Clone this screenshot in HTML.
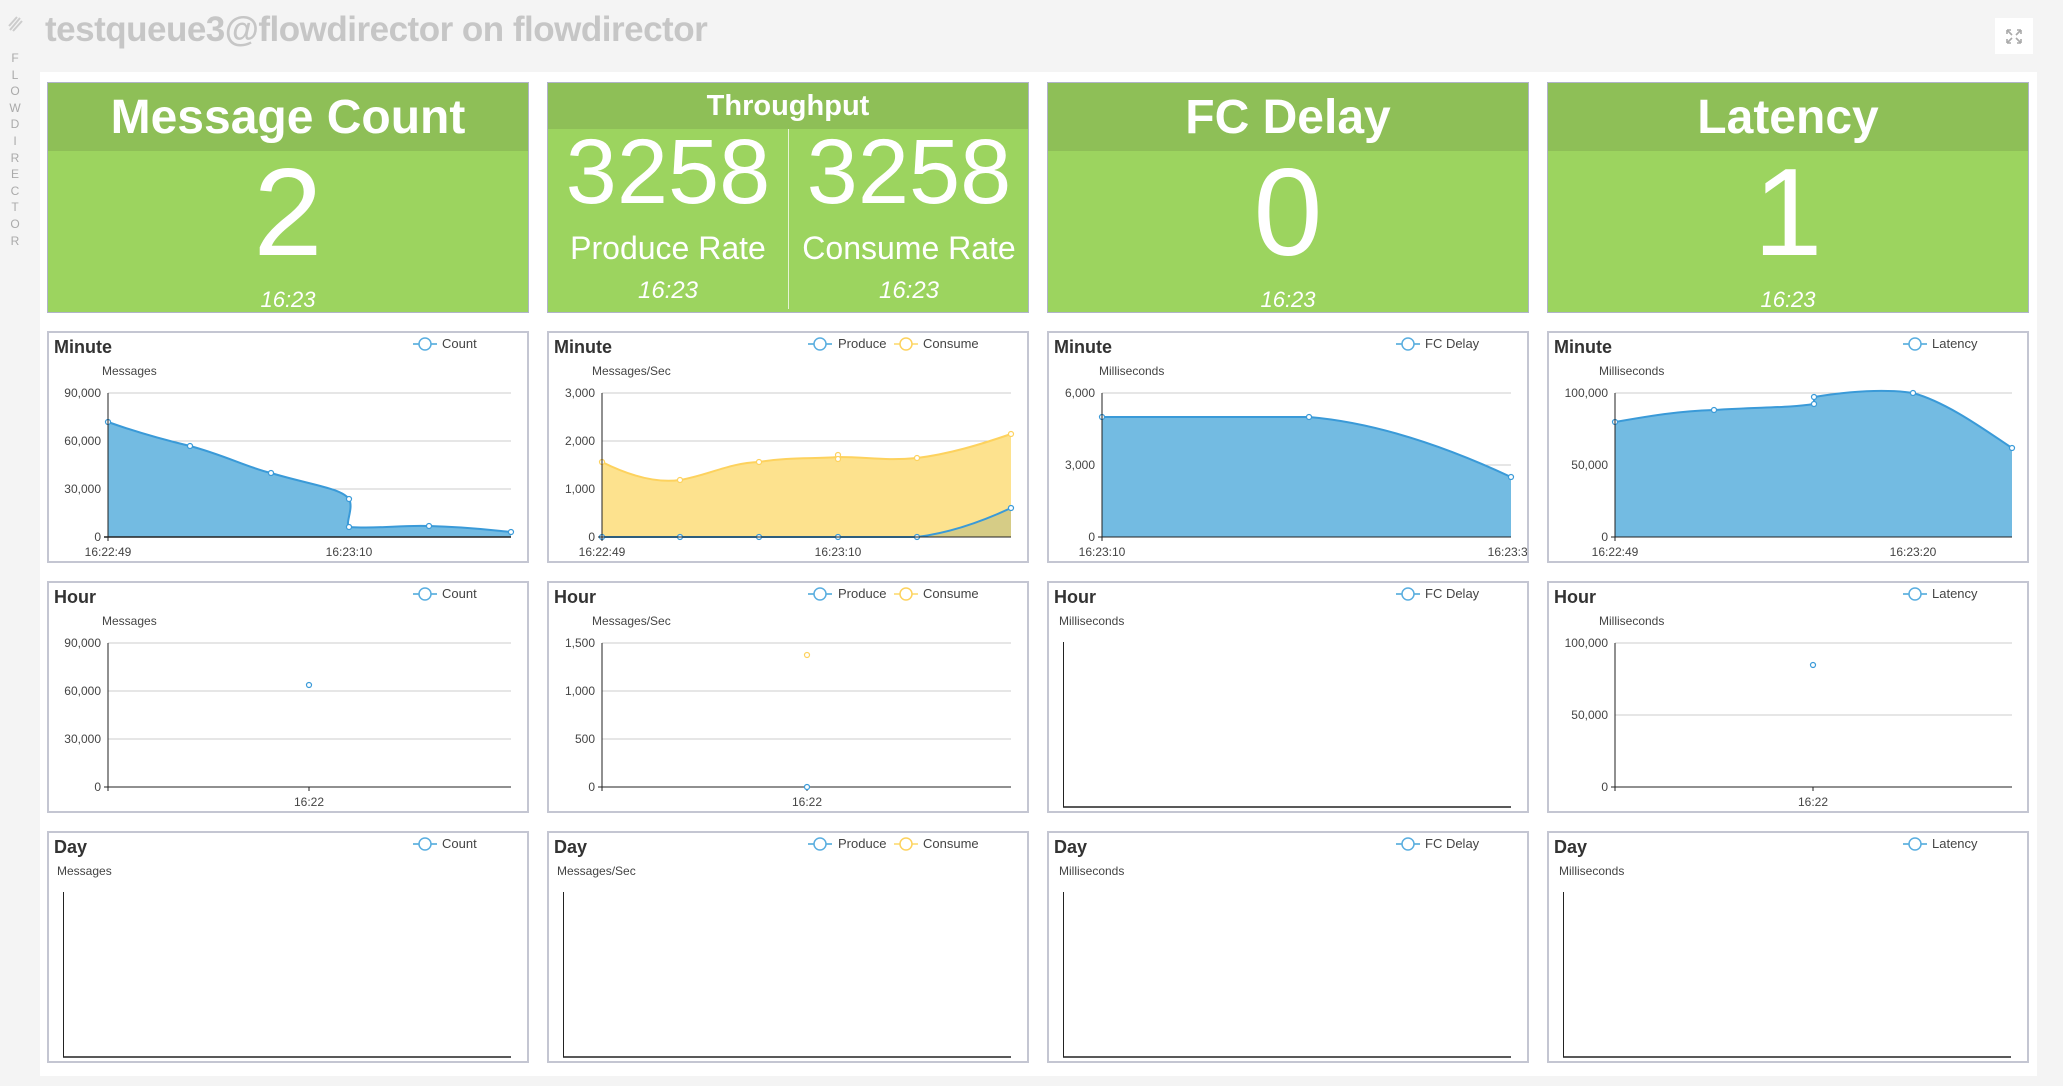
<!DOCTYPE html>
<html><head><meta charset="utf-8">
<style>
*{margin:0;padding:0;box-sizing:border-box}
body{width:2063px;height:1086px;background:#f4f4f4;position:relative;overflow:hidden;font-family:"Liberation Sans",sans-serif}
.title{position:absolute;left:45px;top:10px;font-size:35px;font-weight:bold;color:#c6c6c6;letter-spacing:-0.5px}
.side{position:absolute;left:9px;top:50px;width:12px;font-size:12px;color:#aaa;text-align:center;line-height:16.6px}
.content{position:absolute;left:40px;top:72px;width:1997px;height:1004px;background:#fff}
.tile{position:absolute;top:82px;width:482px;height:231px;background:#9cd45f;border:1px solid #b0b4c8;color:#fff;text-align:center}
.hdr{position:absolute;left:0;top:0;width:100%;height:68px;background:#8ebf57;font-weight:bold;font-size:48px;line-height:70px}
.big{position:absolute;left:0;width:100%;font-size:124px;line-height:1}
.tm{position:absolute;left:0;width:100%;font-size:22px;font-style:italic}
.panel{position:absolute;width:482px;height:232px;background:#fff;border:2px solid #c4c6d2}
svg text{font-family:"Liberation Sans",sans-serif}
</style></head><body>
<div class="title">testqueue3@flowdirector on flowdirector</div>
<svg style="position:absolute;left:6px;top:14px" width="20" height="20"><path d="M4 16 L14 4 M7 17 L16 7 M3 12 L11 3" stroke="#ccc" stroke-width="2" fill="none"/></svg>
<div class="side">F<br>L<br>O<br>W<br>D<br>I<br>R<br>E<br>C<br>T<br>O<br>R</div>
<div style="position:absolute;left:1995px;top:18px;width:38px;height:36px;background:#fff"><svg width="38" height="36"><g stroke="#aaa" stroke-width="1.6" fill="none"><path d="M12 12 L17 17 M12 12 h4 M12 12 v4"/><path d="M26 12 L21 17 M26 12 h-4 M26 12 v4"/><path d="M12 25 L17 20 M12 25 h4 M12 25 v-4"/><path d="M26 25 L21 20 M26 25 h-4 M26 25 v-4"/></g></svg></div>
<div class="content"></div>

<div class="tile" style="left:47px"><div class="hdr">Message Count</div><div class="big" style="top:68px">2</div><div class="tm" style="top:204px">16:23</div></div>
<div class="tile" style="left:547px">
 <div class="hdr" style="height:46px;font-size:29px;line-height:46px">Throughput</div>
 <div style="position:absolute;left:240px;top:46px;width:1px;height:180px;background:#e6f3d6"></div>
 <div style="position:absolute;left:0;width:240px;top:89px;font-size:92px;line-height:0;">3258</div>
 <div style="position:absolute;left:241px;width:240px;top:89px;font-size:92px;line-height:0;">3258</div>
 <div style="position:absolute;left:0;width:240px;top:147px;font-size:32px;">Produce Rate</div>
 <div style="position:absolute;left:241px;width:240px;top:147px;font-size:32px;">Consume Rate</div>
 <div style="position:absolute;left:0;width:240px;top:194px;font-size:24px;font-style:italic">16:23</div>
 <div style="position:absolute;left:241px;width:240px;top:194px;font-size:24px;font-style:italic">16:23</div>
</div>
<div class="tile" style="left:1047px"><div class="hdr">FC Delay</div><div class="big" style="top:68px">0</div><div class="tm" style="top:204px">16:23</div></div>
<div class="tile" style="left:1547px"><div class="hdr">Latency</div><div class="big" style="top:68px">1</div><div class="tm" style="top:204px">16:23</div></div>

<!-- Row Minute -->
<div class="panel" style="left:47px;top:331px"><svg width="478" height="228">
<text x="5" y="20" font-size="18" font-weight="bold" fill="#333">Minute</text>
<g><line x1="364" y1="11" x2="388" y2="11" stroke="#73bbe2" stroke-width="2"/><circle cx="376" cy="11" r="6" fill="#fff" stroke="#5aaee0" stroke-width="1.5"/><text x="393" y="15" font-size="13" fill="#444">Count</text></g>
<text x="53" y="42" font-size="12" fill="#444">Messages</text>
<g stroke="#ccc"><line x1="59" y1="60" x2="462" y2="60"/><line x1="59" y1="108" x2="462" y2="108"/><line x1="59" y1="156" x2="462" y2="156"/></g>
<g font-size="12" fill="#444" text-anchor="end"><text x="52" y="64">90,000</text><text x="52" y="112">60,000</text><text x="52" y="160">30,000</text><text x="52" y="208">0</text></g>
<path d="M59,89 C90,100 120,108 141,113 C175,122 200,135 222,140 C262,152 292,155 300,166 C305,175 296,190 300,194 C330,196 350,192 380,193 C420,194 440,197 462,199 L462,204 L59,204Z" fill="#73bbe2"/>
<path d="M59,89 C90,100 120,108 141,113 C175,122 200,135 222,140 C262,152 292,155 300,166 C305,175 296,190 300,194 C330,196 350,192 380,193 C420,194 440,197 462,199" fill="none" stroke="#3a9ad8" stroke-width="2"/>
<g fill="#fff" stroke="#3a9ad8" stroke-width="1.2"><circle cx="59" cy="89" r="2.5"/><circle cx="141" cy="113" r="2.5"/><circle cx="222" cy="140" r="2.5"/><circle cx="300" cy="166" r="2.5"/><circle cx="300" cy="194" r="2.5"/><circle cx="380" cy="193" r="2.5"/><circle cx="462" cy="199" r="2.5"/></g>
<line x1="59" y1="60" x2="59" y2="208" stroke="#222"/><line x1="55" y1="204" x2="462" y2="204" stroke="#222" stroke-width="1.5"/>
<g font-size="12" fill="#444" text-anchor="middle"><text x="59" y="223">16:22:49</text><text x="300" y="223">16:23:10</text></g>
</svg></div>

<div class="panel" style="left:547px;top:331px"><svg width="478" height="228">
<text x="5" y="20" font-size="18" font-weight="bold" fill="#333">Minute</text>
<g><line x1="259" y1="11" x2="283" y2="11" stroke="#73bbe2" stroke-width="2"/><circle cx="271" cy="11" r="6" fill="#fff" stroke="#5aaee0" stroke-width="1.5"/><text x="289" y="15" font-size="13" fill="#444">Produce</text>
<line x1="345" y1="11" x2="369" y2="11" stroke="#fde28e" stroke-width="2"/><circle cx="357" cy="11" r="6" fill="#fff" stroke="#fdd25e" stroke-width="1.5"/><text x="374" y="15" font-size="13" fill="#444">Consume</text></g>
<text x="43" y="42" font-size="12" fill="#444">Messages/Sec</text>
<g stroke="#ccc"><line x1="53" y1="60" x2="462" y2="60"/><line x1="53" y1="108" x2="462" y2="108"/><line x1="53" y1="156" x2="462" y2="156"/></g>
<g font-size="12" fill="#444" text-anchor="end"><text x="46" y="64">3,000</text><text x="46" y="112">2,000</text><text x="46" y="160">1,000</text><text x="46" y="208">0</text></g>
<path d="M53,129 C85,145 110,150 131,147 C160,142 180,130 210,129 C240,124 265,126 289,124 C320,124 335,128 368,125 C400,121 430,112 462,101 L462,204 L53,204Z" fill="#fde28e"/>
<path d="M53,129 C85,145 110,150 131,147 C160,142 180,130 210,129 C240,124 265,126 289,124 C320,124 335,128 368,125 C400,121 430,112 462,101" fill="none" stroke="#fdd25e" stroke-width="2"/>
<path d="M368,204 C400,200 430,190 462,175 L462,204Z" fill="#d6cc86"/>
<path d="M53,204 L368,204 C400,200 430,190 462,175" fill="none" stroke="#3a9ad8" stroke-width="2"/>
<g fill="#fff" stroke="#fdd25e" stroke-width="1.2"><circle cx="53" cy="129" r="2.5"/><circle cx="131" cy="147" r="2.5"/><circle cx="210" cy="129" r="2.5"/><circle cx="289" cy="122" r="2.5"/><circle cx="289" cy="126" r="2.5"/><circle cx="368" cy="125" r="2.5"/><circle cx="462" cy="101" r="2.5"/></g>
<g fill="#fff" stroke="#3a9ad8" stroke-width="1.2"><circle cx="53" cy="204" r="2.5"/><circle cx="131" cy="204" r="2.5"/><circle cx="210" cy="204" r="2.5"/><circle cx="289" cy="204" r="2.5"/><circle cx="368" cy="204" r="2.5"/><circle cx="462" cy="175" r="2.5"/></g>
<line x1="53" y1="60" x2="53" y2="208" stroke="#222"/><line x1="49" y1="204" x2="462" y2="204" stroke="#222" stroke-width="1"/>
<g font-size="12" fill="#444" text-anchor="middle"><text x="53" y="223">16:22:49</text><text x="289" y="223">16:23:10</text></g>
</svg></div>

<div class="panel" style="left:1047px;top:331px"><svg width="478" height="228">
<text x="5" y="20" font-size="18" font-weight="bold" fill="#333">Minute</text>
<g><line x1="347" y1="11" x2="371" y2="11" stroke="#73bbe2" stroke-width="2"/><circle cx="359" cy="11" r="6" fill="#fff" stroke="#5aaee0" stroke-width="1.5"/><text x="376" y="15" font-size="13" fill="#444">FC Delay</text></g>
<text x="50" y="42" font-size="12" fill="#444">Milliseconds</text>
<g stroke="#ccc"><line x1="53" y1="60" x2="462" y2="60"/><line x1="53" y1="132" x2="462" y2="132"/></g>
<g font-size="12" fill="#444" text-anchor="end"><text x="46" y="64">6,000</text><text x="46" y="136">3,000</text><text x="46" y="208">0</text></g>
<path d="M53,84 L260,84 C330,90 400,115 462,144 L462,204 L53,204Z" fill="#73bbe2"/>
<path d="M53,84 L260,84 C330,90 400,115 462,144" fill="none" stroke="#3a9ad8" stroke-width="2"/>
<g fill="#fff" stroke="#3a9ad8" stroke-width="1.2"><circle cx="53" cy="84" r="2.5"/><circle cx="260" cy="84" r="2.5"/><circle cx="462" cy="144" r="2.5"/></g>
<line x1="53" y1="60" x2="53" y2="208" stroke="#222"/><line x1="49" y1="204" x2="462" y2="204" stroke="#222"/>
<g font-size="12" fill="#444" text-anchor="middle"><text x="53" y="223">16:23:10</text><text x="462" y="223">16:23:30</text></g>
</svg></div>

<div class="panel" style="left:1547px;top:331px"><svg width="478" height="228">
<text x="5" y="20" font-size="18" font-weight="bold" fill="#333">Minute</text>
<g><line x1="354" y1="11" x2="378" y2="11" stroke="#73bbe2" stroke-width="2"/><circle cx="366" cy="11" r="6" fill="#fff" stroke="#5aaee0" stroke-width="1.5"/><text x="383" y="15" font-size="13" fill="#444">Latency</text></g>
<text x="50" y="42" font-size="12" fill="#444">Milliseconds</text>
<g stroke="#ccc"><line x1="66" y1="60" x2="463" y2="60"/><line x1="66" y1="132" x2="463" y2="132"/></g>
<g font-size="12" fill="#444" text-anchor="end"><text x="59" y="64">100,000</text><text x="59" y="136">50,000</text><text x="59" y="208">0</text></g>
<path d="M66,89 C100,83 130,78 165,77 C210,74 240,75 265,71 L265,64 C290,60 330,55 364,60 C400,70 440,100 463,115 L463,204 L66,204Z" fill="#73bbe2"/>
<path d="M66,89 C100,83 130,78 165,77 C210,74 240,75 265,71 L265,64 C290,60 330,55 364,60 C400,70 440,100 463,115" fill="none" stroke="#3a9ad8" stroke-width="2"/>
<g fill="#fff" stroke="#3a9ad8" stroke-width="1.2"><circle cx="66" cy="89" r="2.5"/><circle cx="165" cy="77" r="2.5"/><circle cx="265" cy="71" r="2.5"/><circle cx="265" cy="64" r="2.5"/><circle cx="364" cy="60" r="2.5"/><circle cx="463" cy="115" r="2.5"/></g>
<line x1="66" y1="60" x2="66" y2="208" stroke="#222"/><line x1="62" y1="204" x2="463" y2="204" stroke="#222"/>
<g font-size="12" fill="#444" text-anchor="middle"><text x="66" y="223">16:22:49</text><text x="364" y="223">16:23:20</text></g>
</svg></div>

<!-- Row Hour -->
<div class="panel" style="left:47px;top:581px"><svg width="478" height="228">
<text x="5" y="20" font-size="18" font-weight="bold" fill="#333">Hour</text>
<g><line x1="364" y1="11" x2="388" y2="11" stroke="#73bbe2" stroke-width="2"/><circle cx="376" cy="11" r="6" fill="#fff" stroke="#5aaee0" stroke-width="1.5"/><text x="393" y="15" font-size="13" fill="#444">Count</text></g>
<text x="53" y="42" font-size="12" fill="#444">Messages</text>
<g stroke="#ccc"><line x1="59" y1="60" x2="462" y2="60"/><line x1="59" y1="108" x2="462" y2="108"/><line x1="59" y1="156" x2="462" y2="156"/></g>
<g font-size="12" fill="#444" text-anchor="end"><text x="52" y="64">90,000</text><text x="52" y="112">60,000</text><text x="52" y="160">30,000</text><text x="52" y="208">0</text></g>
<circle cx="260" cy="102" r="2.5" fill="#fff" stroke="#3a9ad8" stroke-width="1.2"/>
<line x1="59" y1="60" x2="59" y2="208" stroke="#222"/><line x1="55" y1="204" x2="462" y2="204" stroke="#222"/><line x1="260" y1="204" x2="260" y2="208" stroke="#222"/>
<text x="260" y="223" font-size="12" fill="#444" text-anchor="middle">16:22</text>
</svg></div>

<div class="panel" style="left:547px;top:581px"><svg width="478" height="228">
<text x="5" y="20" font-size="18" font-weight="bold" fill="#333">Hour</text>
<g><line x1="259" y1="11" x2="283" y2="11" stroke="#73bbe2" stroke-width="2"/><circle cx="271" cy="11" r="6" fill="#fff" stroke="#5aaee0" stroke-width="1.5"/><text x="289" y="15" font-size="13" fill="#444">Produce</text>
<line x1="345" y1="11" x2="369" y2="11" stroke="#fde28e" stroke-width="2"/><circle cx="357" cy="11" r="6" fill="#fff" stroke="#fdd25e" stroke-width="1.5"/><text x="374" y="15" font-size="13" fill="#444">Consume</text></g>
<text x="43" y="42" font-size="12" fill="#444">Messages/Sec</text>
<g stroke="#ccc"><line x1="53" y1="60" x2="462" y2="60"/><line x1="53" y1="108" x2="462" y2="108"/><line x1="53" y1="156" x2="462" y2="156"/></g>
<g font-size="12" fill="#444" text-anchor="end"><text x="46" y="64">1,500</text><text x="46" y="112">1,000</text><text x="46" y="160">500</text><text x="46" y="208">0</text></g>
<circle cx="258" cy="72" r="2.5" fill="#fff" stroke="#fdd25e" stroke-width="1.2"/>
<line x1="53" y1="60" x2="53" y2="208" stroke="#222"/><line x1="49" y1="204" x2="462" y2="204" stroke="#222"/><line x1="258" y1="204" x2="258" y2="208" stroke="#222"/>
<circle cx="258" cy="204" r="2.5" fill="#fff" stroke="#3a9ad8" stroke-width="1.2"/>
<text x="258" y="223" font-size="12" fill="#444" text-anchor="middle">16:22</text>
</svg></div>

<div class="panel" style="left:1047px;top:581px"><svg width="478" height="228">
<text x="5" y="20" font-size="18" font-weight="bold" fill="#333">Hour</text>
<g><line x1="347" y1="11" x2="371" y2="11" stroke="#73bbe2" stroke-width="2"/><circle cx="359" cy="11" r="6" fill="#fff" stroke="#5aaee0" stroke-width="1.5"/><text x="376" y="15" font-size="13" fill="#444">FC Delay</text></g>
<text x="10" y="42" font-size="12" fill="#444">Milliseconds</text>
<line x1="14.5" y1="59" x2="14.5" y2="224" stroke="#222"/><line x1="14" y1="224" x2="462" y2="224" stroke="#222" stroke-width="1.5"/>
</svg></div>

<div class="panel" style="left:1547px;top:581px"><svg width="478" height="228">
<text x="5" y="20" font-size="18" font-weight="bold" fill="#333">Hour</text>
<g><line x1="354" y1="11" x2="378" y2="11" stroke="#73bbe2" stroke-width="2"/><circle cx="366" cy="11" r="6" fill="#fff" stroke="#5aaee0" stroke-width="1.5"/><text x="383" y="15" font-size="13" fill="#444">Latency</text></g>
<text x="50" y="42" font-size="12" fill="#444">Milliseconds</text>
<g stroke="#ccc"><line x1="66" y1="60" x2="463" y2="60"/><line x1="66" y1="132" x2="463" y2="132"/></g>
<g font-size="12" fill="#444" text-anchor="end"><text x="59" y="64">100,000</text><text x="59" y="136">50,000</text><text x="59" y="208">0</text></g>
<circle cx="264" cy="82" r="2.5" fill="#fff" stroke="#3a9ad8" stroke-width="1.2"/>
<line x1="66" y1="60" x2="66" y2="208" stroke="#222"/><line x1="62" y1="204" x2="463" y2="204" stroke="#222"/><line x1="264" y1="204" x2="264" y2="208" stroke="#222"/>
<text x="264" y="223" font-size="12" fill="#444" text-anchor="middle">16:22</text>
</svg></div>

<!-- Row Day -->
<div class="panel" style="left:47px;top:831px"><svg width="478" height="228">
<text x="5" y="20" font-size="18" font-weight="bold" fill="#333">Day</text>
<g><line x1="364" y1="11" x2="388" y2="11" stroke="#73bbe2" stroke-width="2"/><circle cx="376" cy="11" r="6" fill="#fff" stroke="#5aaee0" stroke-width="1.5"/><text x="393" y="15" font-size="13" fill="#444">Count</text></g>
<text x="8" y="42" font-size="12" fill="#444">Messages</text>
<line x1="14.5" y1="59" x2="14.5" y2="224" stroke="#222"/><line x1="14" y1="224" x2="462" y2="224" stroke="#222" stroke-width="1.5"/>
</svg></div>
<div class="panel" style="left:547px;top:831px"><svg width="478" height="228">
<text x="5" y="20" font-size="18" font-weight="bold" fill="#333">Day</text>
<g><line x1="259" y1="11" x2="283" y2="11" stroke="#73bbe2" stroke-width="2"/><circle cx="271" cy="11" r="6" fill="#fff" stroke="#5aaee0" stroke-width="1.5"/><text x="289" y="15" font-size="13" fill="#444">Produce</text>
<line x1="345" y1="11" x2="369" y2="11" stroke="#fde28e" stroke-width="2"/><circle cx="357" cy="11" r="6" fill="#fff" stroke="#fdd25e" stroke-width="1.5"/><text x="374" y="15" font-size="13" fill="#444">Consume</text></g>
<text x="8" y="42" font-size="12" fill="#444">Messages/Sec</text>
<line x1="14.5" y1="59" x2="14.5" y2="224" stroke="#222"/><line x1="14" y1="224" x2="462" y2="224" stroke="#222" stroke-width="1.5"/>
</svg></div>
<div class="panel" style="left:1047px;top:831px"><svg width="478" height="228">
<text x="5" y="20" font-size="18" font-weight="bold" fill="#333">Day</text>
<g><line x1="347" y1="11" x2="371" y2="11" stroke="#73bbe2" stroke-width="2"/><circle cx="359" cy="11" r="6" fill="#fff" stroke="#5aaee0" stroke-width="1.5"/><text x="376" y="15" font-size="13" fill="#444">FC Delay</text></g>
<text x="10" y="42" font-size="12" fill="#444">Milliseconds</text>
<line x1="14.5" y1="59" x2="14.5" y2="224" stroke="#222"/><line x1="14" y1="224" x2="462" y2="224" stroke="#222" stroke-width="1.5"/>
</svg></div>
<div class="panel" style="left:1547px;top:831px"><svg width="478" height="228">
<text x="5" y="20" font-size="18" font-weight="bold" fill="#333">Day</text>
<g><line x1="354" y1="11" x2="378" y2="11" stroke="#73bbe2" stroke-width="2"/><circle cx="366" cy="11" r="6" fill="#fff" stroke="#5aaee0" stroke-width="1.5"/><text x="383" y="15" font-size="13" fill="#444">Latency</text></g>
<text x="10" y="42" font-size="12" fill="#444">Milliseconds</text>
<line x1="14.5" y1="59" x2="14.5" y2="224" stroke="#222"/><line x1="14" y1="224" x2="462" y2="224" stroke="#222" stroke-width="1.5"/>
</svg></div>
</body></html>
